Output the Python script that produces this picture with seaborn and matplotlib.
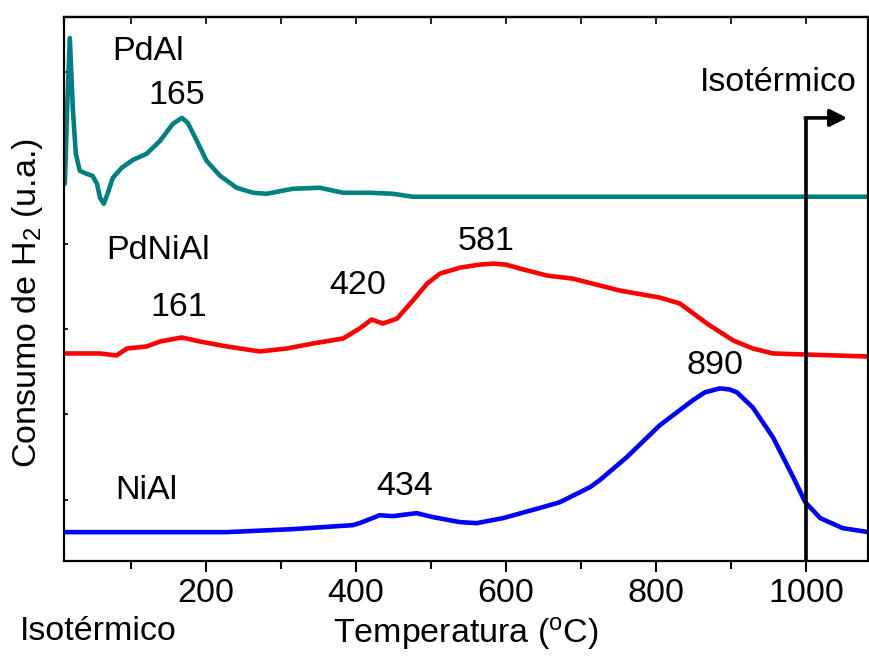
import numpy as np
import pandas as pd
import seaborn as sns
import matplotlib.pyplot as plt

# TPR curves (signal in arbitrary units)
temp_pdal = [12, 13, 15, 18.7, 22.7, 26.7, 32, 41, 49, 55, 59, 64, 69, 76, 88, 103, 121, 139, 156, 168,
             176, 188, 201, 219, 241, 263, 281, 316, 352, 383, 419, 449, 476, 1083]
sig_pdal = [378, 400, 450, 524, 454, 408, 391, 388, 386, 378, 364, 358, 368, 384, 394, 402, 408, 421, 438, 444,
            439, 421, 401, 386, 374, 369, 368, 373, 374, 369, 369, 368, 365, 365]

temp_pdnial = [12, 59, 81, 95, 121, 139, 168, 192, 228, 272, 308, 343, 383, 405, 421, 436, 455, 476, 495, 512,
               539, 565, 583, 600, 619, 655, 689, 752, 805, 832, 868, 903, 929, 956, 996, 1081]
sig_pdnial = [208, 208, 206, 213, 215, 220, 224, 220, 215, 210, 213, 218, 223, 233, 242, 238, 243, 261, 278, 288,
              294, 297, 298, 297, 293, 286, 283, 271, 264, 258, 238, 221, 213, 208, 207, 205]

temp_nial = [12, 135, 228, 316, 396, 405, 432, 449, 481, 503, 539, 561, 596, 649, 672, 712, 725, 761, 805, 849,
             865, 885, 898, 908, 929, 956, 983, 999, 1019, 1049, 1083]
sig_nial = [29, 29, 29, 32, 36, 38, 46, 45, 48, 44, 39, 38, 43, 54, 59, 74, 81, 104, 136, 161,
            169, 173, 172, 169, 154, 124, 84, 59, 43, 33, 29]

# labels: (text, temperature, signal)
labels = [('PdAl', 123, 511), ('165', 161, 466),
          ('PdNiAl', 137, 311), ('161', 164, 254), ('420', 403, 276), ('581', 573, 320),
          ('NiAl', 121, 71), ('434', 465, 75), ('890', 879, 196)]

iso_temp = 1000
iso_top = 444
iso_end = 1055

sns.set_style('ticks')
plt.rcParams['font.family'] = ['Liberation Sans', 'DejaVu Sans']
plt.rcParams['mathtext.fontset'] = 'custom'
plt.rcParams['mathtext.rm'] = 'Liberation Sans'
for key in ['text.color', 'axes.labelcolor', 'xtick.color', 'ytick.color', 'axes.edgecolor']:
    plt.rcParams[key] = 'black'

fs = 24.5

fig, ax = plt.subplots(figsize=(8.7, 6.57), dpi=100)
fig.subplots_adjust(left=0.0736, right=0.998, bottom=0.146, top=0.974)

curves = [(temp_pdal, sig_pdal, '#008080'),
          (temp_pdnial, sig_pdnial, '#ff0000'),
          (temp_nial, sig_nial, '#0000ff')]
for t, s, c in curves:
    sns.lineplot(x=t, y=s, color=c, lw=3.3, ax=ax, sort=False, solid_joinstyle='round')

# isothermal marker
ax.plot([iso_temp, iso_temp], [0, iso_top], color='black', lw=2.6, solid_capstyle='butt')
ax.annotate('', xy=(iso_end, iso_top), xytext=(iso_temp - 1, iso_top),
            arrowprops=dict(arrowstyle='-|>', color='black', lw=2.6, mutation_scale=26,
                            shrinkA=0, shrinkB=0))
ax.text(963, 479, 'Isotérmico', fontsize=fs, ha='center', va='center')

for txt, x, y in labels:
    ax.text(x, y, txt, fontsize=fs, ha='center', va='center')

ax.set_xlim(11, 1083)
ax.set_ylim(0, 545)
ax.set_xticks([200, 400, 600, 800, 1000])
ax.set_xticks(range(100, 1100, 200), minor=True)
ax.set_yticks([61, 147, 233, 318, 404, 490])
ax.set_yticklabels([])
ax.tick_params(axis='x', which='major', direction='out', length=8, width=1.5, labelsize=fs, pad=4)
ax.tick_params(axis='x', which='minor', direction='out', length=6, width=1.5)
ax.tick_params(axis='y', direction='in', length=3, width=1.2)
for sp in ax.spines.values():
    sp.set_linewidth(1.6)

# inward ticks along the top
top = ax.secondary_xaxis('top')
top.set_xticks([200, 400, 600, 800, 1000])
top.set_xticks(range(100, 1100, 200), minor=True)
top.tick_params(which='both', direction='in', length=5, width=1.2, labeltop=False)
top.spines['top'].set_linewidth(1.6)

ax.set_xlabel('Temperatura ($\\mathregular{^o}$C)', fontsize=fs, va='top')
ax.xaxis.set_label_coords(0.499, -0.1)
ax.set_ylabel('Consumo de H$\\mathregular{_2}$ (u.a.)', fontsize=fs, va='center')
ax.yaxis.set_label_coords(-0.045, 0.475)

fig.text(98 / 870, 1 - 632 / 657, 'Isotérmico', fontsize=fs, ha='center', va='center')

fig.savefig('out.png', dpi=100)
